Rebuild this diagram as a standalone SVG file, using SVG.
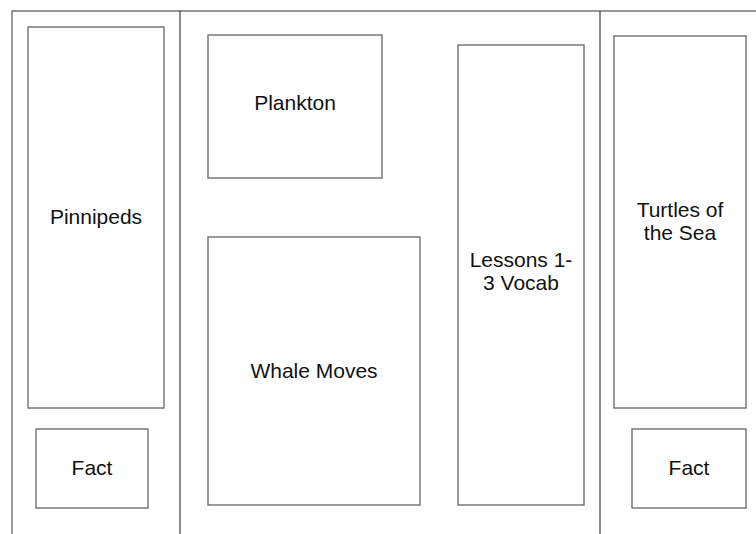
<svg xmlns="http://www.w3.org/2000/svg" width="756" height="534" viewBox="0 0 756 534">
<style>
.box{fill:#ffffff;stroke:#707070;stroke-width:1.4}
.frame{fill:none;stroke:#707070;stroke-width:1.4}
.div{fill:none;stroke:#404040;stroke-width:1.2}
text{font-family:"Liberation Sans",Arial,sans-serif;font-size:21px;fill:#111111;text-anchor:middle}
</style>
<rect width="756" height="534" fill="#ffffff"/>
<g id="frame">
<path class="frame" d="M12,534 V11 H756"/>
<line class="div" x1="180" y1="11" x2="180" y2="534"/>
<line class="div" x1="600" y1="11" x2="600" y2="534"/>
</g>
<g id="connectors"></g>
<g id="pinnipeds"><rect class="box" x="28" y="27" width="136" height="381"/><text x="96" y="224">Pinnipeds</text></g>
<g id="fact-left"><rect class="box" x="36" y="429" width="112" height="79"/><text x="92" y="475">Fact</text></g>
<g id="plankton"><rect class="box" x="208" y="35" width="174" height="143"/><text x="295" y="110">Plankton</text></g>
<g id="whale-moves"><rect class="box" x="208" y="237" width="212" height="268"/><text x="314" y="378">Whale Moves</text></g>
<g id="lessons"><rect class="box" x="458" y="45" width="126" height="460"/><text x="521" y="267">Lessons 1-</text><text x="521" y="290">3 Vocab</text></g>
<g id="turtles"><rect class="box" x="614" y="36" width="132" height="372"/><text x="680" y="217">Turtles of</text><text x="680" y="240">the Sea</text></g>
<g id="fact-right"><rect class="box" x="632" y="429" width="114" height="79"/><text x="689" y="475">Fact</text></g>
</svg>
